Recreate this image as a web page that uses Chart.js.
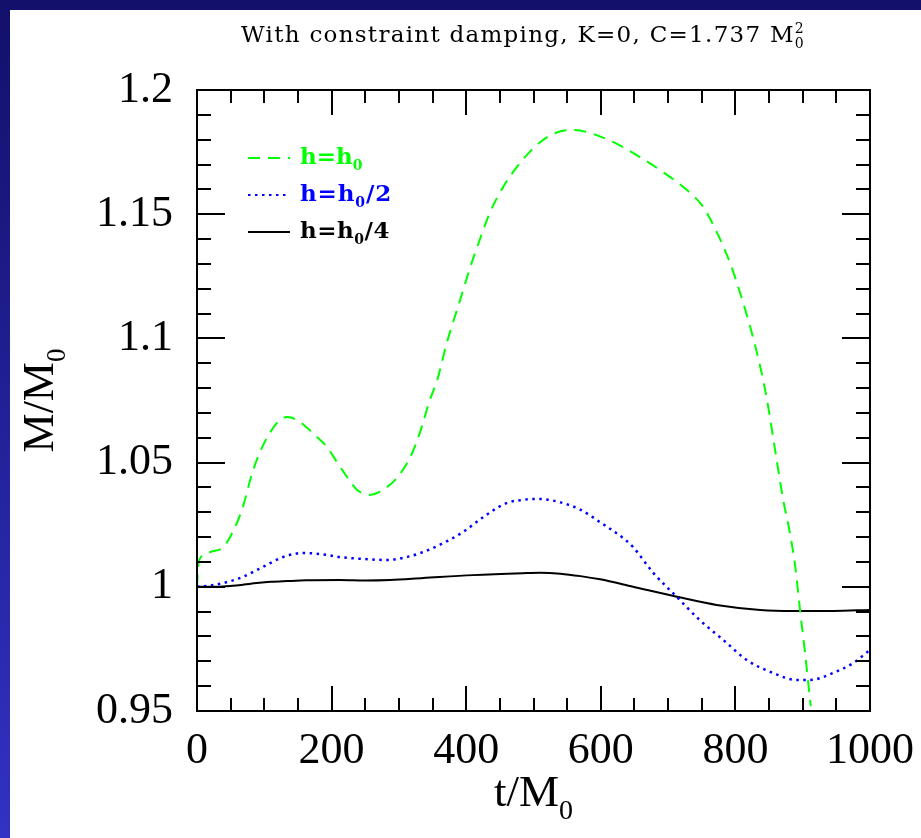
<!DOCTYPE html>
<html><head><meta charset="utf-8">
<script src="https://cdn.jsdelivr.net/npm/chart.js@4/dist/chart.umd.min.js"></script>
<style>html,body{margin:0;padding:0;background:#fff;}canvas{display:block;}</style>
</head><body>
<canvas id="c" width="921" height="838"></canvas>
<script>
// ---- data ----
const tGreen = [0, 2, 8, 20, 39, 53, 68, 82, 97, 111, 123, 135, 153, 172, 193, 208, 223, 238, 257, 276, 297, 317, 331, 346, 357, 371, 391, 406, 420, 435, 455, 480, 505, 529, 557, 579, 618, 658, 692, 728, 752, 773, 792, 807, 822, 837, 847, 859, 871, 881, 889, 896, 903, 911, 912];
const vGreen = [1.000, 1.009, 1.0125, 1.014, 1.016, 1.022, 1.032, 1.0458, 1.0563, 1.0631, 1.0672, 1.0684, 1.0663, 1.0619, 1.0563, 1.0502, 1.0442, 1.039, 1.037, 1.039, 1.0438, 1.0523, 1.0619, 1.0752, 1.0833, 1.098, 1.1155, 1.1287, 1.1396, 1.1505, 1.161, 1.1706, 1.1779, 1.1823, 1.1839, 1.1831, 1.1791, 1.173, 1.167, 1.1597, 1.153, 1.1424, 1.1304, 1.1183, 1.1046, 1.0885, 1.0752, 1.055, 1.035, 1.0217, 1.008, 0.9907, 0.9746, 0.9544, 0.952];

const tBlue = [0, 20, 39, 68, 98, 128, 158, 183, 212, 247, 282, 312, 336, 366, 395, 425, 460, 485, 507, 540, 570, 599, 636, 648, 678, 713, 747, 782, 817, 856, 891, 911, 945, 975, 1000];
const vBlue = [1.0, 1.0005, 1.0015, 1.004, 1.008, 1.012, 1.0136, 1.0132, 1.012, 1.0112, 1.0108, 1.012, 1.014, 1.0176, 1.022, 1.028, 1.0337, 1.035, 1.0354, 1.034, 1.031, 1.026, 1.019, 1.016, 1.0056, 0.9959, 0.9866, 0.9786, 0.9705, 0.9653, 0.9625, 0.9625, 0.9653, 0.9693, 0.9746];

const tBlack = [0, 30, 53, 70, 89, 110, 134, 163, 212, 250, 287, 336, 410, 484, 510, 540, 570, 599, 648, 713, 772, 837, 886, 945, 1000];
const vBlack = [1.0, 1.0, 1.0004, 1.0009, 1.0015, 1.002, 1.0023, 1.0026, 1.0027, 1.0025, 1.0027, 1.0035, 1.0047, 1.0055, 1.0057, 1.0053, 1.0043, 1.003, 1.0, 0.996, 0.9927, 0.9907, 0.9903, 0.9903, 0.9907];

const seriesNames = ['h=h0', 'h=h0/2', 'h=h0/4'];
const xTickValues = [0, 200, 400, 600, 800, 1000];
const xTickLabels = ['0', '200', '400', '600', '800', '1000'];
const yTickValues = [0.95, 1, 1.05, 1.1, 1.15, 1.2];
const yTickLabels = ['0.95', '1', '1.05', '1.1', '1.15', '1.2'];

const toPts = (t, v) => t.map((x, i) => ({x: x, y: v[i]}));
const lookup = (vals, labels, v) => { for (let i = 0; i < vals.length; i++) if (Math.abs(vals[i] - v) < 1e-9) return labels[i]; return ''; };

const SERIF = '"Liberation Serif", "DejaVu Serif", serif';
const DSERIF = '"DejaVu Serif", "Liberation Serif", serif';

// parts: [{t, sub, sup, stack}] ; o: {size, family, weight, align, width(target total width)}
function drawParts(ctx, parts, x, y, o) {
  const w8 = o.weight ? o.weight + ' ' : '';
  const fMain = w8 + o.size + 'px ' + o.family;
  const fSmall = w8 + Math.round(o.size * (o.subScale || 0.62)) + 'px ' + o.family;
  if ('letterSpacing' in ctx) ctx.letterSpacing = '0px';
  const widths = parts.map(p => { ctx.font = (p.sub || p.sup) ? fSmall : fMain; return ctx.measureText(p.t).width; });
  let natural = 0, nChars = 0;
  parts.forEach((p, i) => { if (!p.stack) { natural += widths[i]; nChars += p.t.length; } });
  let ls = 0;
  if (o.width && ('letterSpacing' in ctx)) ls = Math.max(0, (o.width - natural) / nChars);
  const total = natural + ls * nChars;
  let cx = o.align === 'center' ? x - total / 2 : x;
  let prevX = cx;
  parts.forEach((p, i) => {
    ctx.font = (p.sub || p.sup) ? fSmall : fMain;
    if ('letterSpacing' in ctx) ctx.letterSpacing = ls + 'px';
    let dy = 0;
    if (p.sub) dy = o.size * 0.28;
    if (p.sup) dy = -o.size * 0.38;
    const px = p.stack ? prevX : cx;
    ctx.fillText(p.t, px, y + dy);
    if (!p.stack) { prevX = cx; cx += widths[i] + ls * p.t.length; }
  });
  if ('letterSpacing' in ctx) ctx.letterSpacing = '0px';
}

const decor = {
  id: 'decor',
  beforeDraw(chart) {
    const ctx = chart.ctx;
    ctx.save();
    const g = ctx.createLinearGradient(0, 0, 0, 838);
    g.addColorStop(0, '#12106a');
    g.addColorStop(1, '#3232c4');
    ctx.fillStyle = g;
    ctx.fillRect(0, 0, 921, 838);
    ctx.fillStyle = '#ffffff';
    ctx.fillRect(10, 10, 911, 828);
    ctx.restore();
  },
  afterDraw(chart) {
    const {ctx, chartArea: a, scales: {x, y}} = chart;
    ctx.save();
    ctx.strokeStyle = '#000';
    ctx.lineWidth = 2;
    ctx.strokeRect(a.left, a.top, a.right - a.left, a.bottom - a.top);
    ctx.beginPath();
    for (let t = 0; t <= 1000; t += 50) {
      const px = Math.round(x.getPixelForValue(t));
      const L = (t % 200 === 0) ? 25 : 13;
      ctx.moveTo(px, a.bottom); ctx.lineTo(px, a.bottom - L);
      ctx.moveTo(px, a.top); ctx.lineTo(px, a.top + L);
    }
    for (let k = 0; k <= 25; k++) {
      const py = Math.round(y.getPixelForValue(0.95 + k * 0.01));
      const L = (k % 5 === 0) ? 28 : 14;
      ctx.moveTo(a.left, py); ctx.lineTo(a.left + L, py);
      ctx.moveTo(a.right, py); ctx.lineTo(a.right - L, py);
    }
    ctx.stroke();

    ctx.fillStyle = '#000';
    ctx.textBaseline = 'alphabetic';
    ctx.textAlign = 'left';
    // title
    drawParts(ctx, [{t: 'With constraint damping, K=0, C=1.737 M'}, {t: '0', sub: true}, {t: '2', sup: true, stack: true}],
      523, 42, {size: 23, family: DSERIF, align: 'center', width: 564, subScale: 0.6});

    // axis titles
    drawParts(ctx, [{t: 't/M'}, {t: '0', sub: true}], (a.left + a.right) / 2, 806, {size: 45, family: SERIF, align: 'center'});
    ctx.save();
    ctx.translate(53, (a.top + a.bottom) / 2);
    ctx.rotate(-Math.PI / 2);
    drawParts(ctx, [{t: 'M/M'}, {t: '0', sub: true}], 0, 0, {size: 44, family: SERIF, align: 'center'});
    ctx.restore();

    // legend
    const rows = [
      {color: '#00ff00', dash: [12, 8], parts: [{t: 'h=h'}, {t: '0', sub: true}], y: 158, w: 60},
      {color: '#0000ff', dash: [2.5, 4.5], parts: [{t: 'h=h'}, {t: '0', sub: true}, {t: '/2'}], y: 195, w: 92},
      {color: '#000000', dash: [], parts: [{t: 'h=h'}, {t: '0', sub: true}, {t: '/4'}], y: 232, w: 90}
    ];
    rows.forEach(r => {
      ctx.strokeStyle = r.color;
      ctx.lineWidth = 2;
      ctx.setLineDash(r.dash);
      ctx.beginPath();
      ctx.moveTo(248, r.y); ctx.lineTo(290, r.y);
      ctx.stroke();
      ctx.setLineDash([]);
      ctx.fillStyle = r.color;
      drawParts(ctx, r.parts, 300, r.y + 6, {size: 23, family: DSERIF, weight: 'bold', align: 'left', width: r.w, subScale: 0.62});
    });
    ctx.restore();
  }
};

new Chart(document.getElementById('c'), {
  type: 'line',
  data: {
    datasets: [
      {label: seriesNames[0], data: toPts(tGreen, vGreen), borderColor: '#00ff00', borderWidth: 2, borderDash: [12, 8], pointRadius: 0, cubicInterpolationMode: 'monotone', fill: false},
      {label: seriesNames[1], data: toPts(tBlue, vBlue), borderColor: '#0000ff', borderWidth: 2.5, borderDash: [2.5, 4.5], pointRadius: 0, cubicInterpolationMode: 'monotone', fill: false},
      {label: seriesNames[2], data: toPts(tBlack, vBlack), borderColor: '#000000', borderWidth: 2, pointRadius: 0, cubicInterpolationMode: 'monotone', fill: false}
    ]
  },
  options: {
    responsive: false,
    animation: false,
    events: [],
    layout: {padding: {top: 90, right: 51, left: 0, bottom: 0}},
    plugins: {legend: {display: false}, title: {display: false}, tooltip: {enabled: false}},
    scales: {
      x: {
        type: 'linear', min: 0, max: 1000,
        grid: {display: false, drawTicks: false}, border: {display: false},
        ticks: {stepSize: 200, autoSkip: false, maxRotation: 0, padding: 14, color: '#000',
          font: {family: SERIF, size: 44},
          callback: v => lookup(xTickValues, xTickLabels, v)},
        afterFit: s => { s.height = 127; s.paddingLeft = 0; s.paddingRight = 0; }
      },
      y: {
        type: 'linear', min: 0.95, max: 1.2,
        grid: {display: false, drawTicks: false}, border: {display: false},
        ticks: {stepSize: 0.05, autoSkip: false, padding: 24, color: '#000',
          font: {family: SERIF, size: 44},
          callback: v => lookup(yTickValues, yTickLabels, v)},
        afterFit: s => { s.width = 197; s.paddingTop = 0; s.paddingBottom = 0; }
      }
    }
  },
  plugins: [decor]
});
</script>
</body></html>
